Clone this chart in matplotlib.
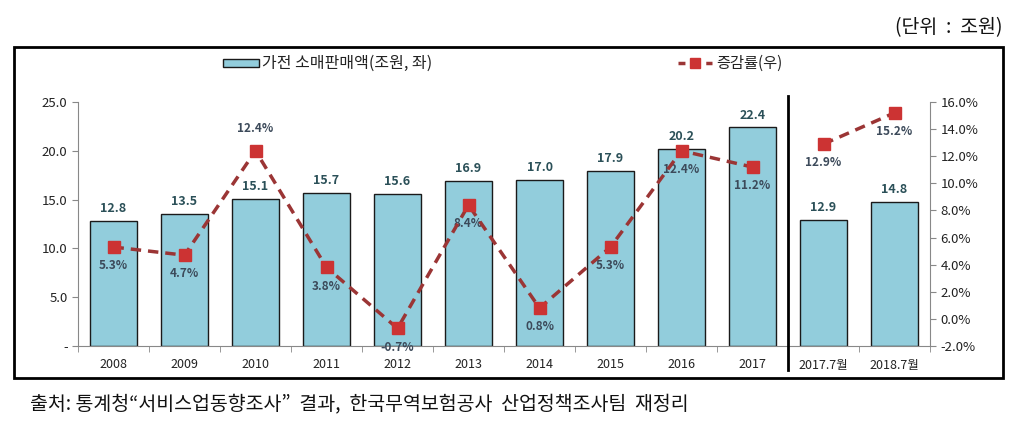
import matplotlib
matplotlib.use("Agg")
import matplotlib.pyplot as plt
from matplotlib.patches import Rectangle
from matplotlib.lines import Line2D
import numpy as np

plt.rcParams['font.family'] = ['Noto Sans CJK KR', 'DejaVu Sans']

categories = ['2008', '2009', '2010', '2011', '2012', '2013', '2014', '2015', '2016', '2017', '2017.7월', '2018.7월']
sales = [12.8, 13.5, 15.1, 15.7, 15.6, 16.9, 17.0, 17.9, 20.2, 22.4, 12.9, 14.8]
growth = [5.3, 4.7, 12.4, 3.8, -0.7, 8.4, 0.8, 5.3, 12.4, 11.2, 12.9, 15.2]
left_ticks = [0, 5, 10, 15, 20, 25]
left_ticklabels = ['-', '5.0', '10.0', '15.0', '20.0', '25.0']
right_ticks = [-2, 0, 2, 4, 6, 8, 10, 12, 14, 16]
growth_label_above = [False, False, True, False, False, False, False, False, False, False, False, False]

fig = plt.figure(figsize=(10.2, 4.21), dpi=100)
W, H = 1020, 421
ax = fig.add_axes([78 / W, 1 - 346 / H, (930 - 78) / W, (346 - 102) / H])
ax2 = ax.twinx()

x = np.arange(len(categories))
bar_color = '#92CDDC'
ax.bar(x, sales, width=0.66, color=bar_color, edgecolor='#1a1a1a', linewidth=1.0, zorder=2)
for xi, v in zip(x, sales):
    ax.text(xi, v + 0.6, f'{v:.1f}', ha='center', va='bottom', fontsize=9, color='#2b5058', fontweight='bold', zorder=5)

ax.set_xlim(-0.5, len(categories) - 0.5)
ax.set_ylim(0, 25)
ax.set_yticks(left_ticks)
ax.set_yticklabels(left_ticklabels)
ax.set_xticks(x)
ax.set_xticklabels(categories)
ax.set_xticks(np.arange(-0.5, len(categories), 1), minor=True)
ax.tick_params(axis='x', which='major', length=0, pad=9, labelsize=9, colors='#222222')
ax.tick_params(axis='x', which='minor', length=4, color='#888888', direction='out')
ax.tick_params(axis='y', length=4, color='#888888', labelsize=9.5, colors='#222222', direction='out')
for s in ['top', 'right']:
    ax.spines[s].set_visible(False)
ax.spines['left'].set_color('#888888')
ax.spines['bottom'].set_color('#888888')

line_color = '#9b3535'
marker_color = '#cc3333'
n1 = 10
ax2.plot(x[:n1], growth[:n1], linestyle=(0, (3, 2)), color=line_color, linewidth=2.5,
         marker='s', markersize=8, markerfacecolor=marker_color, markeredgecolor=marker_color, zorder=4)
ax2.plot(x[n1:], growth[n1:], linestyle=(0, (3, 2)), color=line_color, linewidth=2.5,
         marker='s', markersize=8, markerfacecolor=marker_color, markeredgecolor=marker_color, zorder=4)
for xi, g, above in zip(x, growth, growth_label_above):
    if above:
        ax2.text(xi, g + 1.2, f'{g:.1f}%', ha='center', va='bottom', fontsize=8.5, color='#3c4a5a', fontweight='bold')
    else:
        ax2.text(xi, g - 0.9, f'{g:.1f}%', ha='center', va='top', fontsize=8.5, color='#3c4a5a', fontweight='bold')
ax2.set_ylim(-2, 16)
ax2.set_yticks(right_ticks)
ax2.set_yticklabels([f'{t:.1f}%' for t in right_ticks])
ax2.tick_params(axis='y', length=4, color='#888888', labelsize=9.5, colors='#222222', direction='out')
for s in ['top', 'left', 'bottom']:
    ax2.spines[s].set_visible(False)
ax2.spines['right'].set_color('#888888')

# separator line
fig.add_artist(Line2D([788 / W, 788 / W], [1 - 96 / H, 1 - 370 / H], color='black', linewidth=2))

# outer frame
fig.add_artist(Rectangle((14 / W, 1 - 378 / H), (1003 - 14) / W, (378 - 47) / H, fill=False,
                         edgecolor='black', linewidth=2))

# legend
fig.add_artist(Rectangle((223 / W, 1 - 67 / H), 36 / W, 8 / H, facecolor=bar_color, edgecolor='#1a1a1a', linewidth=1))
fig.text(262 / W, 1 - 63 / H, '가전 소매판매액(조원, 좌)', ha='left', va='center', fontsize=11.5, color='#222222')
fig.add_artist(Line2D([678 / W, 712 / W], [1 - 63 / H, 1 - 63 / H], color=line_color, linewidth=2.5, linestyle=(0, (2, 2))))
fig.add_artist(Line2D([695 / W], [1 - 63 / H], marker='s', markersize=7, color=marker_color, linestyle='none'))
fig.text(716 / W, 1 - 63 / H, '증감률(우)', ha='left', va='center', fontsize=11, color='#222222')

fig.text(1003 / W, 1 - 28 / H, '(단위  :  조원)', ha='right', va='center', fontsize=14, color='#111111')
fig.text(30 / W, 1 - 404 / H, '출처: 통계청“서비스업동향조사”  결과,  한국무역보험공사  산업정책조사팀  재정리',
         ha='left', va='center', fontsize=14, color='#111111')

fig.savefig('out.png', dpi=100)
